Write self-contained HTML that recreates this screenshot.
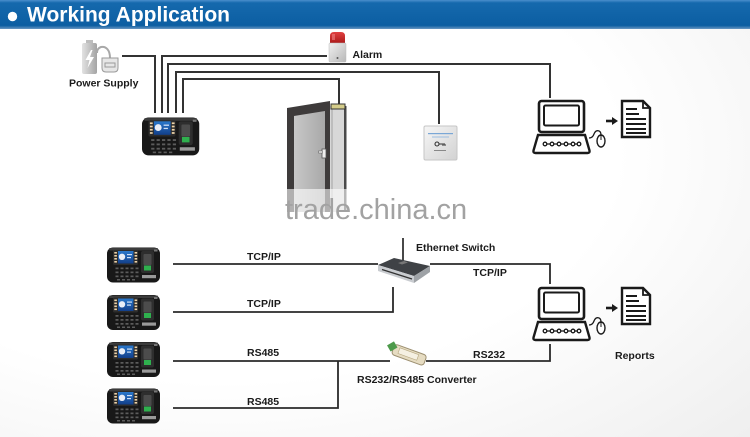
<!DOCTYPE html>
<html><head><meta charset="utf-8">
<style>
html,body{margin:0;padding:0;background:#fff;}
body{width:750px;height:437px;overflow:hidden;font-family:"Liberation Sans",Arial,sans-serif;}
svg{display:block;}
.lb{font-family:"Liberation Sans",Arial,sans-serif;font-weight:bold;font-size:10.5px;fill:#1a1a1a;}
</style></head><body>
<svg width="750" height="437" viewBox="0 0 750 437" xmlns="http://www.w3.org/2000/svg">
<defs>
 <linearGradient id="hdr" x1="0" y1="0" x2="0" y2="1">
  <stop offset="0" stop-color="#4a8fcc"/>
  <stop offset="0.1" stop-color="#1569ad"/>
  <stop offset="0.88" stop-color="#0c5ea2"/>
  <stop offset="1" stop-color="#6a97c2"/>
 </linearGradient>
 <radialGradient id="bg" cx="0.3" cy="0.35" r="0.95">
  <stop offset="0.55" stop-color="#ffffff"/>
  <stop offset="1" stop-color="#efefef"/>
 </radialGradient>
 <linearGradient id="batt" x1="0" y1="0" x2="1" y2="0">
  <stop offset="0" stop-color="#e2e2e2"/>
  <stop offset="1" stop-color="#a4a4a4"/>
 </linearGradient>
 <linearGradient id="redg" x1="0" y1="0" x2="0" y2="1">
  <stop offset="0" stop-color="#e04040"/>
  <stop offset="1" stop-color="#a81818"/>
 </linearGradient>
 <linearGradient id="greyg" x1="0" y1="0" x2="1" y2="1">
  <stop offset="0" stop-color="#f0f0f0"/>
  <stop offset="1" stop-color="#b8b8b8"/>
 </linearGradient>
 <linearGradient id="exitg" x1="0" y1="0" x2="1" y2="1">
  <stop offset="0" stop-color="#f6f6f6"/>
  <stop offset="1" stop-color="#d2d2d2"/>
 </linearGradient>
 <linearGradient id="doorg" x1="0" y1="0" x2="1" y2="0">
  <stop offset="0" stop-color="#c8c8c8"/>
  <stop offset="1" stop-color="#a8a8a8"/>
 </linearGradient>
 <linearGradient id="screen" x1="0" y1="0" x2="0" y2="1">
  <stop offset="0" stop-color="#2a78cc"/>
  <stop offset="1" stop-color="#123f8a"/>
 </linearGradient>
 <g id="dev">
  <rect x="0" y="0.5" width="53" height="35" rx="6" fill="#181818"/>
  <rect x="2" y="1" width="49" height="2.5" rx="1" fill="#3c3c3c"/>
  <rect x="6" y="3" width="25" height="15" rx="1.5" fill="#2c2c2c"/>
  <rect x="11" y="4" width="15.5" height="12.5" fill="url(#screen)"/>
  <circle cx="15" cy="9.8" r="3.2" fill="#e9eef7"/>
  <rect x="20" y="7" width="5" height="1.2" fill="#cfe0f5"/>
  <rect x="20" y="10" width="4" height="1.2" fill="#cfe0f5"/>
  <g fill="#eed3a8">
   <rect x="7.3" y="5" width="2.6" height="1.6"/><rect x="7.3" y="8" width="2.6" height="1.6"/>
   <rect x="7.3" y="11" width="2.6" height="1.6"/><rect x="7.3" y="14" width="2.6" height="1.6"/>
   <rect x="27.6" y="5" width="2.6" height="1.6"/><rect x="27.6" y="8" width="2.6" height="1.6"/>
   <rect x="27.6" y="11" width="2.6" height="1.6"/><rect x="27.6" y="14" width="2.6" height="1.6"/>
  </g>
  <g fill="#5c5c5c">
   <rect x="8.5" y="20.5" width="3" height="1.7"/><rect x="13.5" y="20.5" width="3" height="1.7"/><rect x="18.5" y="20.5" width="3" height="1.7"/><rect x="23.5" y="20.5" width="3" height="1.7"/><rect x="28.5" y="20.5" width="3" height="1.7"/>
   <rect x="8.5" y="24.5" width="3" height="1.7"/><rect x="13.5" y="24.5" width="3" height="1.7"/><rect x="18.5" y="24.5" width="3" height="1.7"/><rect x="23.5" y="24.5" width="3" height="1.7"/><rect x="28.5" y="24.5" width="3" height="1.7"/>
   <rect x="8.5" y="28.5" width="3" height="1.7"/><rect x="13.5" y="28.5" width="3" height="1.7"/><rect x="18.5" y="28.5" width="3" height="1.7"/><rect x="23.5" y="28.5" width="3" height="1.7"/><rect x="28.5" y="28.5" width="3" height="1.7"/>
   <rect x="10" y="32" width="3" height="1.5"/><rect x="15" y="32" width="3" height="1.5"/><rect x="20" y="32" width="3" height="1.5"/><rect x="25" y="32" width="3" height="1.5"/>
  </g>
  <rect x="34" y="4" width="13" height="22" rx="2" fill="#2e2e2e"/>
  <rect x="36.5" y="7" width="8" height="11" rx="1" fill="#4c4c4c"/>
  <rect x="37" y="18.5" width="7" height="5" fill="#2fb04e"/>
  <rect x="35" y="28" width="14" height="3.2" fill="#9a9a9a"/>
  <rect x="47" y="2.5" width="3.5" height="2" fill="#777"/>
 </g>
 <g id="pc" fill="none" stroke="#1a1a1a">
  <rect x="6" y="1" width="45" height="31" rx="2.5" stroke-width="2.6" fill="#fff"/>
  <rect x="11" y="5.5" width="35" height="20" rx="1.5" stroke-width="2"/>
  <path d="M5 35 H52 L56.5 50.5 Q57 53 54.5 53 H2.5 Q0 53 0.5 50.5 Z" stroke-width="2.4" fill="#fff"/>
  <path d="M10 44 H47" stroke-width="1.3"/>
  <g fill="#fff" stroke-width="1.3">
   <circle cx="12" cy="44" r="1.8"/><circle cx="19" cy="44" r="1.8"/><circle cx="26" cy="44" r="1.8"/><circle cx="33" cy="44" r="1.8"/><circle cx="40" cy="44" r="1.8"/><circle cx="46" cy="44" r="1.8"/>
  </g>
  <path d="M68 35 C68 30 63 29 61 34 C60 37 58 38 56 38" stroke-width="1.3"/>
  <ellipse cx="68" cy="41" rx="4" ry="6" stroke-width="1.4" fill="#fff"/>
  <path d="M68 35 V40" stroke-width="1"/>
  <path d="M73 21 H80" stroke-width="2.6"/>
  <polygon points="79,17 85,21 79,25" fill="#1a1a1a" stroke="none"/>
  <path d="M89 1 H110 L117 8 V37 H89 Z" stroke-width="2.4" fill="#fff"/>
  <path d="M110 1 V8 H117" stroke-width="1.8"/>
  <path d="M93 9 H104 M93 14 H106 M93 19 H113 M93 24 H113 M93 29 H113 M93 33 H113" stroke-width="2"/>
 </g>
</defs>

<rect width="750" height="437" fill="url(#bg)"/>

<!-- header -->
<rect width="750" height="29" fill="url(#hdr)"/>
<circle cx="12.5" cy="16.5" r="4.7" fill="#fff"/>
<text x="27" y="21.5" font-family="Liberation Sans, Arial, sans-serif" font-size="21" font-weight="bold" fill="#fff">Working Application</text>

<!-- top wiring -->
<g stroke="#333" stroke-width="2" fill="none">
 <path d="M122 56 H155 V113"/>
 <path d="M162 113 V56 H327"/>
 <path d="M168 113 V64 H550 V98"/>
 <path d="M176 113 V72 H439 V124"/>
 <path d="M183 113 V79 H339 V104"/>
</g>

<!-- power supply -->
<rect x="86" y="40" width="7" height="4" fill="#bdbdbd"/>
<rect x="82" y="43" width="15" height="31" rx="2" fill="url(#batt)"/>
<polygon points="91,50 85.5,60 89.5,60 87.5,68 94,57 90,57 92.5,50" fill="#fff"/>
<path d="M110 58 C110 50 106 46 101 47 C98 48 97 50 97 53" stroke="#a8a8a8" stroke-width="2" fill="none"/>
<path d="M102 58 H118 V68 Q118 72 114 72 H106 Q102 72 102 68 Z" fill="#e6e6e6" stroke="#9a9a9a" stroke-width="1"/>
<rect x="105" y="63" width="10" height="4" fill="none" stroke="#9a9a9a" stroke-width="1"/>
<text class="lb" x="69" y="86.5">Power Supply</text>

<!-- alarm -->
<path d="M330 44 V36 Q330 32 334 32 H341 Q345 32 345 36 V44 Z" fill="url(#redg)"/>
<rect x="332" y="34" width="3" height="6" fill="#f08080" opacity="0.6"/>
<rect x="329" y="43" width="17" height="19" rx="1" fill="url(#greyg)" stroke="#bbb" stroke-width="0.5"/>
<circle cx="337.5" cy="58" r="1" fill="#555"/>
<text class="lb" x="352.5" y="58">Alarm</text>

<!-- top device -->
<use href="#dev" transform="translate(142,117) scale(1.08)"/>

<!-- door -->
<rect x="330" y="106" width="15" height="106" fill="#d8d8d8"/>
<rect x="331" y="108" width="2" height="104" fill="#bdbdbd"/>
<rect x="344" y="106" width="2.5" height="106" fill="#4a4a4a"/>
<rect x="331" y="104" width="14" height="5" fill="#d5cd8a" stroke="#333" stroke-width="1"/>
<polygon points="287,108 330,101 330,212 287,212" fill="#3e3b3b"/>
<polygon points="294,116 325,111 325,212 294,212" fill="url(#doorg)"/>
<rect x="322" y="149" width="4" height="9" fill="#eee" stroke="#555" stroke-width="0.8"/>
<rect x="318.5" y="151" width="4" height="2" fill="#eee" stroke="#555" stroke-width="0.5"/>

<!-- exit button -->
<rect x="424" y="126" width="33" height="34" rx="1.5" fill="url(#exitg)" stroke="#c6c6c6" stroke-width="1"/>
<rect x="428" y="133" width="25" height="1.2" fill="#7aa7d6"/>
<rect x="432" y="136.5" width="17" height="1" fill="#9cbde0"/>
<circle cx="437" cy="144" r="2" fill="none" stroke="#333" stroke-width="1.1"/>
<path d="M439 144 H445 M443 144 V146 M445 144 V146" stroke="#333" stroke-width="1" fill="none"/>
<rect x="434" y="150" width="12" height="1" fill="#888"/>

<!-- top computer -->
<use href="#pc" transform="translate(533,100)"/>

<!-- watermark -->
<rect x="268" y="189" width="210" height="37" fill="#fff" opacity="0.6"/>
<text x="285" y="219" font-family="Liberation Sans, Arial, sans-serif" font-size="29" fill="#a2a2a2">trade.china.cn</text>

<!-- bottom wiring -->
<g stroke="#2a2a2a" stroke-width="1.8" fill="none">
 <path d="M173 264 H378"/>
 <path d="M430 264 H550 V284"/>
 <path d="M393 287 V312 H173"/>
 <path d="M173 361 H390"/>
 <path d="M426 361 H550 V344"/>
 <path d="M173 408 H338 V361"/>
</g>

<!-- bottom devices -->
<use href="#dev" transform="translate(107,247)"/>
<use href="#dev" transform="translate(107,294.5)"/>
<use href="#dev" transform="translate(107,341.5)"/>
<use href="#dev" transform="translate(107,388)"/>

<!-- switch -->
<line x1="403" y1="238" x2="403" y2="262" stroke="#333" stroke-width="1.8"/>
<polygon points="378,265 394,258 430,266 414,276" fill="#3f4246"/>
<polygon points="378,265 414,276 414,283 378,271" fill="#c9ccd0"/>
<polygon points="414,276 430,266 430,272 414,283" fill="#9ea2a6"/>
<path d="M382 269.5 L412 279" stroke="#333" stroke-width="1.2"/>
<polygon points="398,263 404,261 408,262.5 402,264.5" fill="#777"/>
<text class="lb" x="416" y="251">Ethernet Switch</text>

<!-- converter -->
<g transform="translate(408,355) rotate(20)">
 <rect x="-16" y="-6" width="34" height="11" rx="3" fill="#e6dcc2" stroke="#9c8f70" stroke-width="1"/>
 <rect x="-10" y="-4" width="20" height="6" fill="#f5f0e2" stroke="#b7a880" stroke-width="0.6"/>
</g>
<rect x="388" y="343" width="8" height="7" fill="#4d9a4a" transform="rotate(-30 392 346)"/>
<text class="lb" x="357" y="383">RS232/RS485 Converter</text>

<!-- bottom computer -->
<use href="#pc" transform="translate(533,287)"/>
<text class="lb" x="615" y="359">Reports</text>

<!-- labels -->
<text class="lb" x="247" y="260">TCP/IP</text>
<text class="lb" x="247" y="307">TCP/IP</text>
<text class="lb" x="247" y="356">RS485</text>
<text class="lb" x="247" y="405">RS485</text>
<text class="lb" x="473" y="276">TCP/IP</text>
<text class="lb" x="473" y="358">RS232</text>
</svg>
</body></html>
